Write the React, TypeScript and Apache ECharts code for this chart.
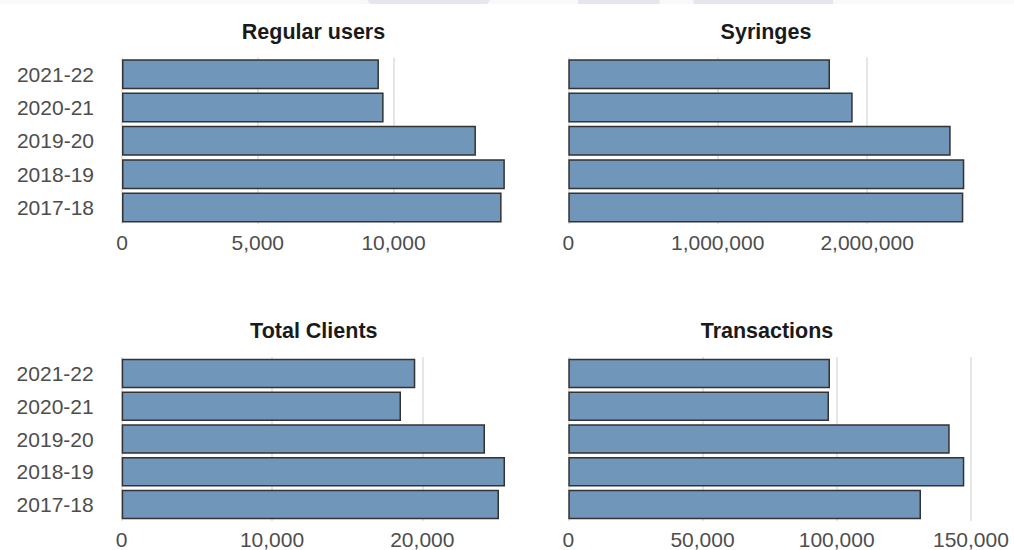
import React, { useEffect, useRef } from "react";
import * as echarts from "echarts";

const categories = ["2017-18", "2018-19", "2019-20", "2020-21", "2021-22"];
const panelTitles = ["Regular users", "Syringes", "Total Clients", "Transactions"];
const regularUsers = [13980, 14100, 13035, 9635, 9463];
const syringes = [2644000, 2650600, 2559600, 1903600, 1751700];
const totalClients = [25103, 25505, 24172, 18583, 19534];
const transactions = [131410, 147540, 142100, 97130, 97500];
const tickIntervals = [5000, 1000000, 10000, 50000];
const axisMax = [14805, 2783130, 26780, 154917];

const seriesData = [regularUsers, syringes, totalClients, transactions];

export default function App() {
  const ref = useRef<HTMLDivElement>(null);
  useEffect(() => {
    if (!ref.current) return;
    const chart = echarts.init(ref.current, null, { renderer: "svg" });
    const grids = [
      { left: 122, width: 402, top: 57.6, height: 166.5 },
      { left: 568.3, width: 415.8, top: 57.6, height: 166.5 },
      { left: 121.7, width: 402.5, top: 357.1, height: 166.5 },
      { left: 568.3, width: 415.8, top: 357.1, height: 166.5 },
    ];
    const titleX = [313.5, 766, 313.8, 767];
    const titleY = [21, 21, 320, 320];
    const fmt = (v: number) => v.toLocaleString("en-US");
    const option: any = {
      animation: false,
      backgroundColor: "#ffffff",
      title: panelTitles.map((t, i) => ({
        text: t,
        left: titleX[i],
        top: titleY[i],
        padding: 0,
        textAlign: "center",
        textStyle: { fontFamily: "Liberation Sans, Arial", fontSize: 21.5, fontWeight: "bold", color: "#1a1a1a" },
      })),
      grid: grids.map((g) => ({ ...g, containLabel: false })),
      xAxis: seriesData.map((_, i) => ({
        type: "value",
        gridIndex: i,
        min: 0,
        max: axisMax[i],
        interval: tickIntervals[i],
        axisLine: { show: false },
        axisTick: { show: false },
        axisLabel: {
          show: true,
          formatter: fmt,
          fontFamily: "Liberation Sans, Arial",
          fontSize: 21,
          color: "#4d4d4d",
          margin: 8,
          showMaxLabel: false,
        },
        splitLine: { show: true, showMaxLine: false, lineStyle: { color: "#e6e6e6", width: 2 } },
      })),
      yAxis: seriesData.map((_, i) => ({
        type: "category",
        gridIndex: i,
        data: categories,
        axisLine: { show: false },
        axisTick: { show: false },
        axisLabel: {
          show: i % 2 === 0,
          fontFamily: "Liberation Sans, Arial",
          fontSize: 21,
          color: "#4d4d4d",
          margin: 28,
        },
        splitLine: { show: false },
      })),
      series: seriesData.map((d, i) => ({
        type: "bar",
        xAxisIndex: i,
        yAxisIndex: i,
        data: d,
        barCategoryGap: "10%",
        itemStyle: { color: "#7096ba", borderColor: "#333333", borderWidth: 1.5 },
      })),
      graphic: [
        { type: "rect", shape: { x: 0, y: 0, width: 1014, height: 4 }, style: { fill: "#f9f9fa" }, silent: true },
        { type: "polygon", shape: { points: [[367, 0], [490, 0], [487, 4], [370, 4]] }, style: { fill: "#e6e7ee" }, silent: true },
        { type: "polygon", shape: { points: [[578, 0], [660, 0], [659, 4], [578, 4]] }, style: { fill: "#e6e7ee" }, silent: true },
        { type: "polygon", shape: { points: [[693, 0], [833, 0], [833, 4], [694, 4]] }, style: { fill: "#e6e7ee" }, silent: true },
      ],
    };
    chart.setOption(option);
    return () => chart.dispose();
  }, []);
  return <div ref={ref} style={{ width: 1014, height: 550, position: "absolute", left: 0, top: 0 }} />;
}
